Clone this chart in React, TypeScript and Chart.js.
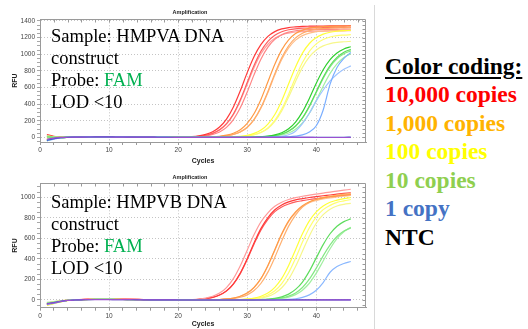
import React, { useEffect, useRef } from 'react';
import { Chart, registerables } from 'chart.js';

Chart.register(...registerables);

// ---------- data ----------
const CYCLES = [1, 2, 3, 4, 5, 6, 7, 8, 9, 10, 11, 12, 13, 14, 15, 16, 17, 18, 19, 20, 21, 22, 23, 24, 25, 26, 27, 28, 29, 30, 31, 32, 33, 34, 35, 36, 37, 38, 39, 40, 41, 42, 43, 44, 45];

// Top panel (HMPVA)
const TOP_NTC = [-22, -8, 0, 2, 3, 4, 5, 5, 5, 5, 4, 4, 4, 3, 3, 3, 2, 2, 2, 1, 1, 1, 1, 0, 0, 0, 0, 0, 0, 0, 0, 0, 0, 0, 0, 0, 0, 0, 0, -1, -1, -1, -1, -1, -1];
const TOP_BLUE_FLAT = [-35, -14, -3, 1, 3, 4, 5, 6, 6, 6, 5, 5, 4, 4, 3, 3, 2, 2, 2, 1, 1, 1, 1, 1, 1, 1, 0, 0, 0, 0, 0, 0, 0, 0, 1, 1, 1, 1, 1, 2, 2, 2, 2, 2, 3];
const TOP_RED_1 = [35, 14, 4, 3, 5, 6, 7, 8, 8, 8, 7, 7, 6, 5, 5, 4, 3, 3, 3, 3, 6, 10, 19, 37, 68, 125, 221, 367, 561, 779, 973, 1119, 1215, 1272, 1304, 1321, 1329, 1335, 1337, 1338, 1339, 1340, 1341, 1342, 1343];
const TOP_RED_2 = [15, 5, 1, 3, 4, 6, 7, 8, 8, 8, 7, 7, 6, 6, 5, 4, 4, 3, 3, 3, 5, 7, 14, 26, 49, 91, 165, 282, 453, 660, 867, 1038, 1155, 1229, 1271, 1294, 1306, 1313, 1316, 1318, 1319, 1320, 1321, 1322, 1323];
const TOP_RED_3 = [-25, -8, 0, 3, 5, 6, 7, 7, 7, 7, 6, 6, 5, 5, 4, 4, 3, 2, 2, 2, 2, 5, 10, 19, 35, 66, 121, 215, 356, 545, 755, 944, 1086, 1179, 1234, 1265, 1282, 1290, 1295, 1297, 1298, 1299, 1300, 1301, 1302];
const TOP_RED_4 = [28, 10, 3, 3, 5, 6, 7, 7, 8, 7, 7, 6, 6, 5, 5, 4, 4, 3, 3, 2, 3, 7, 13, 25, 48, 88, 160, 274, 439, 640, 841, 1006, 1120, 1192, 1233, 1254, 1267, 1273, 1276, 1278, 1279, 1280, 1281, 1282, 1283];
const TOP_ORANGE_1 = [-20, -6, 1, 3, 5, 6, 7, 7, 7, 7, 6, 6, 5, 5, 4, 4, 3, 3, 2, 2, 2, 2, 3, 4, 7, 14, 27, 50, 92, 168, 287, 460, 670, 880, 1053, 1173, 1248, 1290, 1313, 1326, 1333, 1336, 1338, 1339, 1340];
const TOP_ORANGE_2 = [-30, -12, -2, 2, 4, 6, 7, 8, 8, 7, 7, 6, 6, 5, 4, 4, 3, 3, 2, 2, 2, 2, 2, 3, 5, 10, 19, 36, 67, 123, 218, 362, 553, 767, 958, 1102, 1197, 1253, 1284, 1302, 1309, 1315, 1317, 1318, 1320];
const TOP_ORANGE_3 = [10, 4, 1, 3, 4, 5, 6, 7, 7, 7, 6, 6, 5, 5, 4, 3, 3, 2, 2, 2, 1, 2, 2, 3, 5, 10, 19, 35, 65, 120, 213, 354, 540, 749, 936, 1077, 1170, 1224, 1254, 1272, 1279, 1285, 1287, 1288, 1290];
const TOP_YELLOW_1 = [-35, -15, -3, 2, 4, 6, 7, 8, 8, 8, 7, 7, 6, 5, 5, 4, 3, 3, 2, 2, 2, 1, 1, 2, 2, 3, 4, 7, 14, 26, 48, 89, 161, 276, 442, 645, 848, 1014, 1129, 1201, 1242, 1264, 1276, 1283, 1286];
const TOP_YELLOW_2 = [20, 7, 2, 3, 5, 6, 7, 7, 7, 7, 6, 6, 5, 5, 4, 4, 3, 3, 2, 2, 2, 1, 1, 1, 2, 2, 3, 5, 9, 18, 34, 63, 115, 205, 340, 520, 720, 900, 1035, 1125, 1177, 1207, 1223, 1230, 1235];
const TOP_YELLOW_3 = [-10, -3, 0, 3, 4, 5, 6, 7, 7, 7, 6, 6, 5, 5, 4, 3, 3, 2, 2, 2, 1, 1, 1, 1, 2, 2, 3, 5, 8, 17, 32, 59, 108, 192, 318, 486, 673, 842, 968, 1052, 1100, 1128, 1143, 1150, 1155];
const TOP_GREEN_1 = [-38, -16, -3, 2, 4, 6, 7, 8, 8, 7, 7, 6, 6, 5, 5, 4, 3, 3, 2, 2, 2, 1, 1, 1, 1, 1, 1, 1, 2, 2, 4, 9, 16, 31, 57, 104, 185, 307, 469, 651, 813, 935, 1016, 1063, 1090];
const TOP_GREEN_2 = [5, 2, 1, 3, 4, 5, 6, 7, 7, 7, 6, 6, 5, 5, 4, 4, 3, 3, 2, 2, 2, 1, 1, 1, 1, 1, 1, 1, 1, 2, 3, 6, 12, 22, 41, 76, 138, 235, 377, 550, 723, 865, 963, 1024, 1059];
const TOP_GREEN_3 = [-28, -10, -1, 2, 4, 5, 6, 7, 7, 7, 6, 6, 5, 5, 4, 4, 3, 3, 2, 2, 1, 1, 1, 1, 1, 1, 1, 1, 1, 2, 3, 6, 11, 21, 40, 75, 135, 231, 370, 540, 710, 849, 945, 1005, 1040];
const TOP_GREEN_4 = [18, 6, 2, 3, 4, 6, 7, 7, 7, 7, 6, 6, 5, 5, 4, 4, 3, 3, 2, 2, 2, 1, 1, 1, 1, 1, 1, 1, 1, 1, 2, 4, 8, 15, 29, 54, 99, 175, 290, 444, 616, 770, 885, 961, 1006];
const TOP_BLUE_1 = [-42, -20, -5, 1, 3, 5, 6, 7, 7, 7, 6, 6, 5, 5, 4, 4, 3, 3, 2, 2, 2, 1, 1, 1, 1, 1, 1, 1, 1, 1, 1, 2, 2, 3, 5, 8, 15, 30, 65, 140, 330, 640, 840, 950, 1020];
const TOP_BLUE_2 = [-30, -12, -2, 2, 4, 5, 6, 7, 7, 7, 6, 6, 5, 5, 4, 4, 3, 3, 2, 2, 1, 1, 1, 1, 1, 1, 1, 1, 1, 1, 1, 2, 3, 6, 14, 32, 75, 165, 290, 440, 570, 680, 760, 820, 860];

// Bottom panel (HMPVB)
const BOT_NTC = [-40, -28, -14, -4, 0, 2, 3, 4, 4, 4, 4, 3, 3, 2, 2, 2, 1, 1, 1, 0, 0, 0, 0, 0, 0, 0, 0, 0, 0, 0, 0, 0, 0, 0, 0, 0, 0, 0, 0, 1, 1, 1, 1, 1, 1];
const BOT_BLUE_FLAT = [-36, -25, -13, -4, 0, 2, 4, 5, 5, 5, 4, 4, 3, 3, 2, 2, 1, 1, 1, 0, 0, 0, 0, 0, 0, 0, 0, 0, 0, 0, 0, 0, 0, 0, 0, 1, 1, 1, 1, 1, 1, 2, 2, 2, 2];
const BOT_RED_1 = [-40, -28, -14, -4, 2, 6, 10, 13, 14, 14, 13, 11, 9, 7, 5, 3, 1, 0, -1, -2, 1, 4, 9, 19, 36, 67, 121, 208, 333, 485, 637, 762, 849, 912, 952, 978, 996, 1010, 1021, 1031, 1041, 1051, 1060, 1069, 1078];
const BOT_RED_2 = [-48, -32, -16, -5, 1, 5, 8, 11, 12, 12, 11, 10, 8, 6, 4, 3, 1, 0, -1, -2, -2, 2, 7, 14, 26, 49, 89, 158, 263, 402, 558, 697, 802, 878, 925, 955, 975, 987, 998, 1007, 1015, 1022, 1030, 1037, 1044];
const BOT_RED_3 = [-35, -24, -12, -3, 2, 5, 8, 10, 11, 11, 10, 9, 7, 6, 4, 2, 1, 0, -1, -1, -1, 3, 7, 14, 25, 48, 87, 155, 257, 394, 546, 682, 785, 860, 906, 935, 955, 967, 978, 987, 995, 1003, 1010, 1017, 1024];
const BOT_ORANGE_1 = [-30, -20, -10, -3, 1, 3, 5, 6, 6, 6, 5, 5, 4, 3, 3, 2, 2, 1, 1, 0, 0, 0, 0, 1, 3, 5, 10, 19, 37, 68, 123, 210, 336, 490, 644, 770, 858, 918, 956, 978, 994, 1005, 1013, 1020, 1027];
const BOT_ORANGE_2 = [-45, -30, -15, -5, 0, 3, 5, 6, 7, 7, 6, 5, 5, 4, 3, 2, 2, 1, 1, 0, 0, 0, 0, 1, 2, 4, 8, 14, 27, 50, 92, 163, 271, 415, 575, 719, 827, 904, 952, 981, 1000, 1012, 1022, 1030, 1037];
const BOT_ORANGE_3 = [-25, -16, -8, -2, 1, 3, 5, 6, 6, 6, 5, 5, 4, 3, 3, 2, 2, 1, 1, 0, 0, 0, 0, 1, 3, 5, 10, 19, 37, 67, 122, 208, 333, 485, 638, 762, 849, 909, 946, 968, 984, 995, 1003, 1010, 1017];
const BOT_YELLOW_1 = [-52, -35, -18, -6, 0, 3, 5, 6, 7, 7, 6, 5, 5, 4, 3, 2, 2, 1, 1, 0, 0, 0, 0, 0, 0, 1, 1, 3, 5, 10, 19, 37, 68, 123, 210, 336, 490, 644, 770, 858, 915, 952, 972, 987, 998];
const BOT_YELLOW_2 = [-38, -26, -13, -4, 1, 3, 5, 6, 6, 6, 5, 5, 4, 3, 3, 2, 2, 1, 1, 0, 0, 0, 0, 0, 0, 1, 1, 2, 4, 7, 14, 26, 49, 90, 160, 266, 406, 564, 704, 810, 880, 921, 950, 965, 978];
const BOT_YELLOW_3 = [-28, -19, -9, -2, 1, 3, 5, 6, 6, 6, 5, 5, 4, 3, 3, 2, 2, 1, 1, 0, 0, 0, 0, 0, 0, 1, 1, 2, 3, 5, 10, 19, 35, 66, 119, 203, 326, 475, 624, 747, 831, 884, 915, 931, 940];
const BOT_GREEN_1 = [-42, -29, -15, -5, 0, 3, 5, 6, 7, 7, 6, 5, 5, 4, 3, 2, 2, 1, 1, 0, 0, 0, 0, 0, 0, 0, 0, 1, 1, 1, 2, 5, 9, 16, 31, 57, 103, 175, 281, 410, 539, 645, 718, 763, 790];
const BOT_GREEN_2 = [-33, -23, -12, -4, 0, 3, 5, 6, 6, 6, 5, 5, 4, 3, 3, 2, 2, 1, 1, 0, 0, 0, 0, 0, 0, 0, 0, 1, 1, 1, 1, 3, 6, 11, 20, 38, 69, 122, 203, 310, 430, 537, 618, 671, 702];
const BOT_GREEN_3 = [-24, -17, -9, -3, 0, 3, 4, 5, 6, 6, 5, 5, 4, 3, 3, 2, 2, 1, 1, 0, 0, 0, 0, 0, 0, 0, 0, 1, 1, 1, 1, 2, 4, 8, 15, 28, 52, 95, 163, 261, 380, 499, 597, 665, 708];
const BOT_BLUE_1 = [-46, -32, -16, -5, 0, 3, 5, 6, 6, 6, 5, 5, 4, 3, 3, 2, 2, 1, 1, 0, 0, 0, 0, 0, 0, 0, 0, 0, 0, 1, 1, 1, 1, 2, 3, 6, 12, 25, 50, 95, 170, 270, 325, 355, 375];

// Axis ranges
const TOP_Y_RANGE = [-55, 1420];
const BOT_Y_RANGE = [-75, 1136];
const X_RANGE = [0, 47.2];

const LEGEND_LABELS = ['10,000 copies', '1,000 copies', '100 copies', '10 copies', '1 copy', 'NTC'];
const LEGEND_COLORS = ['#ff0000', '#ffb300', '#ffff00', '#8fcf4f', '#4472c4', '#000000'];

type Series = { values: number[]; color: string };

const TOP_SERIES: Series[] = [
  { values: TOP_NTC, color: '#9b4fd0' },
  { values: TOP_BLUE_FLAT, color: '#3a4fc0' },
  { values: TOP_BLUE_1, color: '#7aaeff' },
  { values: TOP_BLUE_2, color: '#9fc4ff' },
  { values: TOP_GREEN_1, color: '#2fcf2f' },
  { values: TOP_GREEN_2, color: '#5ddc5d' },
  { values: TOP_GREEN_3, color: '#84e884' },
  { values: TOP_GREEN_4, color: '#a2efa2' },
  { values: TOP_YELLOW_1, color: '#ffff3a' },
  { values: TOP_YELLOW_2, color: '#ffff70' },
  { values: TOP_YELLOW_3, color: '#f7f78a' },
  { values: TOP_ORANGE_1, color: '#ff9a45' },
  { values: TOP_ORANGE_2, color: '#ffab66' },
  { values: TOP_ORANGE_3, color: '#ffbd88' },
  { values: TOP_RED_1, color: '#ff3a3a' },
  { values: TOP_RED_2, color: '#ff6060' },
  { values: TOP_RED_3, color: '#ff8585' },
  { values: TOP_RED_4, color: '#ffa0a0' },
];

const BOT_SERIES: Series[] = [
  { values: BOT_NTC, color: '#9b4fd0' },
  { values: BOT_BLUE_FLAT, color: '#3a4fc0' },
  { values: BOT_BLUE_1, color: '#8ab8ff' },
  { values: BOT_GREEN_1, color: '#5ddc5d' },
  { values: BOT_GREEN_2, color: '#84e884' },
  { values: BOT_GREEN_3, color: '#a2efa2' },
  { values: BOT_YELLOW_1, color: '#ffff3a' },
  { values: BOT_YELLOW_2, color: '#ffff70' },
  { values: BOT_YELLOW_3, color: '#f7f78a' },
  { values: BOT_ORANGE_1, color: '#ff9a45' },
  { values: BOT_ORANGE_2, color: '#ffb070' },
  { values: BOT_ORANGE_3, color: '#ffc090' },
  { values: BOT_RED_1, color: '#ff9a9a' },
  { values: BOT_RED_2, color: '#ff3a3a' },
  { values: BOT_RED_3, color: '#ff5a5a' },
];

const SANS = '"Liberation Sans", Arial, sans-serif';
const SERIF = '"Liberation Serif", "Times New Roman", serif';

const framePlugin = {
  id: 'frame',
  beforeDatasetsDraw(chart: any) {
    const { ctx, chartArea: a, scales } = chart;
    ctx.save();
    ctx.strokeStyle = '#9a9a9a';
    ctx.lineWidth = 1;
    ctx.beginPath();
    const r = Math.round(a.right) - 0.5;
    const t = Math.round(a.top) + 0.5;
    ctx.moveTo(Math.round(a.left), t);
    ctx.lineTo(r, t);
    ctx.lineTo(r, Math.round(a.bottom));
    scales.y.ticks.forEach((tk: any) => {
      const y = Math.round(scales.y.getPixelForValue(tk.value)) + 0.5;
      ctx.moveTo(r, y);
      ctx.lineTo(r - 3, y);
    });
    scales.x.ticks.forEach((tk: any) => {
      const x = Math.round(scales.x.getPixelForValue(tk.value)) + 0.5;
      ctx.moveTo(x, t);
      ctx.lineTo(x, t + 3);
    });
    ctx.stroke();
    ctx.restore();
  },
};

function buildConfig(series: Series[], yRange: number[], padTop: number, canvasH: number, plotBottom: number): any {
  return {
    type: 'line',
    data: {
      datasets: series.map((s) => ({
        data: s.values.map((v, i) => ({ x: CYCLES[i], y: v })),
        borderColor: s.color,
        borderWidth: 1.2,
        pointRadius: 0,
        fill: false,
        cubicInterpolationMode: 'monotone',
      })),
    },
    options: {
      animation: false,
      responsive: false,
      maintainAspectRatio: false,
      layout: { padding: { top: padTop, right: 6, left: 0, bottom: 0 } },
      plugins: { legend: { display: false }, tooltip: { enabled: false }, title: { display: false } },
      scales: {
        x: {
          type: 'linear',
          min: X_RANGE[0],
          max: X_RANGE[1],
          ticks: {
            stepSize: 2,
            autoSkip: false,
            maxRotation: 0,
            includeBounds: false,
            padding: 1.6,
            color: '#444',
            font: { family: SANS, size: 6.5 },
            callback: (v: any) => (Number(v) % 10 === 0 ? String(v) : ''),
          },
          grid: {
            color: (c: any) => (c.tick && c.tick.value % 10 === 0 ? '#c4c4c4' : 'rgba(0,0,0,0)'),
            tickColor: '#9a9a9a',
            tickLength: 3,
            lineWidth: 1,
          },
          border: { display: true, color: '#9a9a9a', width: 1, dash: [1, 2] },
          title: {
            display: true,
            text: 'Cycles',
            color: '#222',
            font: { family: SANS, size: 7, weight: 'bold' },
            padding: { top: 0, bottom: 0.6 },
          },
          afterFit: (s: any) => {
            s.height = canvasH - plotBottom;
          },
        },
        y: {
          type: 'linear',
          min: yRange[0],
          max: yRange[1],
          ticks: {
            stepSize: 50,
            autoSkip: false,
            includeBounds: false,
            padding: 2,
            color: '#444',
            font: { family: SANS, size: 6.5 },
            callback: (v: any) => (Number(v) % 200 === 0 ? String(v) : ''),
          },
          grid: {
            color: (c: any) => (c.tick && c.tick.value % 200 === 0 ? '#c4c4c4' : 'rgba(0,0,0,0)'),
            tickColor: '#a8a8a8',
            tickLength: 3,
            lineWidth: 1,
          },
          border: { display: true, color: '#9a9a9a', width: 1, dash: [1, 2] },
          title: {
            display: true,
            text: 'RFU',
            color: '#222',
            font: { family: SANS, size: 7, weight: 'bold' },
            padding: { top: 10.5, bottom: 0 },
          },
          afterFit: (s: any) => {
            s.width = 40;
          },
        },
      },
    },
    plugins: [framePlugin],
  };
}

function PanelChart(props: { series: Series[]; yRange: number[]; top: number; height: number; plotTop: number; plotBottom: number }) {
  const ref = useRef<HTMLCanvasElement | null>(null);
  useEffect(() => {
    if (!ref.current) return;
    const chart = new Chart(
      ref.current,
      buildConfig(props.series, props.yRange, props.plotTop - props.top, props.height, props.plotBottom - props.top)
    );
    return () => chart.destroy();
  }, []);
  return (
    <canvas
      ref={ref}
      width={372}
      height={props.height}
      style={{ position: 'absolute', left: 0, top: props.top, width: 372, height: props.height }}
    />
  );
}

function SampleText(props: { name: string; top: number }) {
  return (
    <div
      style={{
        position: 'absolute',
        left: 51,
        top: props.top,
        fontFamily: SERIF,
        fontSize: '18.5px',
        lineHeight: '22px',
        color: '#000',
        whiteSpace: 'nowrap',
      }}
    >
      <div>Sample: {props.name} DNA</div>
      <div>construct</div>
      <div>
        Probe: <span style={{ color: '#00b050' }}>FAM</span>
      </div>
      <div>LOD &lt;10</div>
    </div>
  );
}

function AmpTitle(props: { top: number }) {
  return (
    <div
      style={{
        position: 'absolute',
        left: 150,
        width: 80,
        top: props.top,
        textAlign: 'center',
        fontFamily: SANS,
        fontWeight: 'bold',
        fontSize: '5.5px',
        lineHeight: '7px',
        color: '#222',
      }}
    >
      Amplification
    </div>
  );
}

export default function App() {
  return (
    <div style={{ position: 'absolute', left: 0, top: 0, width: 528, height: 329, background: '#fff', overflow: 'hidden' }}>
      <PanelChart series={TOP_SERIES} yRange={TOP_Y_RANGE} top={0} height={166} plotTop={19.3} plotBottom={142} />
      <PanelChart series={BOT_SERIES} yRange={BOT_Y_RANGE} top={166} height={163} plotTop={183.3} plotBottom={307.7} />
      <AmpTitle top={8.5} />
      <AmpTitle top={173.5} />
      <SampleText name="HMPVA" top={24.8} />
      <SampleText name="HMPVB" top={190.8} />
      <div style={{ position: 'absolute', left: 374, top: 5, width: 1, height: 324, background: '#d9d9d9' }} />
      <div
        style={{
          position: 'absolute',
          left: 385,
          top: 51.8,
          fontFamily: SERIF,
          fontWeight: 'bold',
          fontSize: '23.5px',
          lineHeight: '28.5px',
          whiteSpace: 'nowrap',
        }}
      >
        <div style={{ textDecoration: 'underline', textUnderlineOffset: '3px', color: '#000' }}>Color coding:</div>
        {LEGEND_LABELS.map((l, i) => (
          <div key={l} style={{ color: LEGEND_COLORS[i] }}>
            {l}
          </div>
        ))}
      </div>
    </div>
  );
}
